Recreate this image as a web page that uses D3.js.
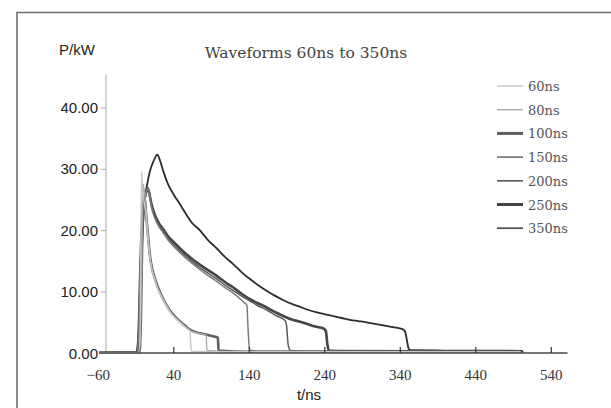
<!DOCTYPE html>
<html>
<head>
<meta charset="utf-8">
<script src="https://cdn.jsdelivr.net/npm/d3@7/dist/d3.min.js"></script>
<style>
  html, body { margin: 0; padding: 0; background: #fff; overflow: hidden; }
  svg { display: block; }
</style>
</head>
<body>
<svg id="chart" width="611" height="408"></svg>
<script>
// ---- data (t in ns, P in kW) ----
const xTicks = [-60, 40, 140, 240, 340, 440, 540];
const yTicks = [0, 10, 20, 30, 40];
const seriesNames = ["60ns", "80ns", "100ns", "150ns", "200ns", "250ns", "350ns"];

const s60 = [[-58,0.05],[-6,0.05],[-4,3],[-3,18],[-2,29.6],[-1,27],[0,25.5],[1.5,24.5],[3,23.2],[6,19.3],[9,15.5],[12,13.4],[16,11.7],[20,10.3],[25,9.0],[31,7.6],[38,6.3],[45,5.4],[51,4.7],[57,4.1],[62,3.6],[63,1.5],[64,0.3],[100,0.2],[500,0.2]];
const s80 = [[-58,0.05],[-5,0.05],[-3,6],[-1,22],[0,27.5],[1.5,26.5],[3,25],[6,19.6],[9,15.7],[12,13.5],[16,11.8],[20,10.4],[25,9.1],[31,7.7],[38,6.4],[45,5.5],[51,4.8],[57,4.2],[62,3.7],[70,3.3],[77,3.1],[82,3.0],[83.5,2.9],[84.5,0.4],[120,0.2],[500,0.2]];
const s100 = [[-58,0.05],[-5,0.05],[-3,5],[-1,20],[0.5,25.5],[2,25.5],[4,22.5],[6,19.8],[9,15.9],[12,13.7],[16,12.0],[20,10.6],[25,9.2],[31,7.8],[38,6.5],[45,5.6],[51,4.9],[57,4.3],[62,3.8],[70,3.4],[82,3.05],[90,2.8],[97,2.6],[99,2.5],[100,0.4],[140,0.2],[500,0.2]];
const s150 = [[-58,0.05],[-8,0.1],[-6,3],[-4,12],[-2,20],[1,24],[4,26],[6.5,26.8],[9,25.3],[11,23.8],[15,22.1],[20,20.8],[27,19.5],[33,18.4],[42,17.2],[51,16.1],[62,14.9],[75,13.6],[86,12.6],[97,11.7],[108,10.7],[119,9.8],[126,9.1],[133,8.3],[137.5,7.8],[139,4],[141,0.5],[150,0.3],[500,0.2]];
const s200 = [[-58,0.05],[-8,0.1],[-6,3],[-4,12],[-2,20],[1,24.5],[4,26.4],[6.5,27.0],[9,25.6],[11,24.1],[15,22.4],[20,21.0],[27,19.8],[33,18.7],[42,17.5],[51,16.4],[62,15.2],[75,13.9],[86,13.0],[97,12.1],[108,11.1],[119,10.2],[130,9.3],[141,8.5],[152,7.7],[164,7.0],[176,6.1],[188,5.3],[190,4.5],[192,1.5],[195,0.4],[210,0.3],[500,0.2]];
const s250 = [[-58,0.05],[-8,0.1],[-6,3],[-4,12],[-2,20],[1,24.2],[4,26.2],[7,26.6],[9,25.5],[11,24.3],[15,22.7],[20,21.3],[27,20.1],[33,19.0],[42,17.9],[51,16.8],[62,15.6],[75,14.4],[86,13.5],[97,12.6],[108,11.6],[119,10.7],[130,9.7],[141,8.8],[152,8.1],[164,7.4],[176,6.6],[188,5.9],[198,5.4],[208,5.1],[218,4.7],[228,4.3],[239,4.0],[242,3.6],[244,1.5],[246,0.4],[260,0.3],[500,0.25]];
const s350 = [[-58,0.05],[-8.5,0.1],[-6,3],[-3,12],[0,21],[3,25.5],[7,28.5],[10,30],[14,31.3],[19,32.3],[22,31.5],[27,29.5],[33,27.5],[41,25.7],[49,24.2],[56,22.8],[64,21.3],[75,20.0],[86,18.4],[97,17.1],[108,15.7],[120,14.4],[131,13.1],[142,12.0],[153,11.0],[164,10.1],[175,9.3],[186,8.6],[197,8.0],[208,7.5],[219,7.0],[230,6.6],[241,6.3],[252,6.0],[263,5.7],[274,5.4],[285,5.2],[296,5.0],[307,4.75],[318,4.5],[329,4.25],[340,4.0],[345,3.8],[347.5,3.3],[349.5,2.0],[351.5,0.8],[354,0.45],[400,0.4],[450,0.4],[502,0.35],[503,0.05]];

const seriesData = [s60, s80, s100, s150, s200, s250, s350];

// ---- styles ----
const colors = ["#c6c6c6", "#a9a9a9", "#5e5e5e", "#7a7a7a", "#5a5a5a", "#454545", "#2c2c2c"];
const widths = [1.4, 1.4, 2.6, 1.5, 1.5, 2.6, 1.8];
const legendWidths = [1.4, 1.4, 3, 1.6, 1.6, 3, 1.8];
const legendColors = ["#c6c6c6", "#a9a9a9", "#5e5e5e", "#6e6e6e", "#5a5a5a", "#454545", "#555555"];

const svg = d3.select("#chart");

// frame: only top and left edges are within the picture
svg.append("path").attr("d", "M17,408V12.5H611")
  .attr("fill", "none").attr("stroke", "#707070").attr("stroke-width", 1.6);

const x = d3.scaleLinear().domain([-60, 540]).range([97.8, 550.8]);
const y = d3.scaleLinear().domain([0, 40]).range([353, 107.4]);

// y axis
svg.append("line").attr("x1", 106).attr("x2", 106).attr("y1", y(45.3)).attr("y2", y(0))
  .attr("stroke", "#b5b5b5").attr("stroke-width", 1.2);
const yAxis = d3.axisLeft(y).tickValues(yTicks).tickSize(5).tickFormat(d3.format(".2f"));
const gy = svg.append("g").attr("transform", "translate(106,0)").call(yAxis);
gy.select(".domain").remove();
gy.selectAll(".tick line").attr("stroke", "#aaa");
gy.selectAll(".tick text").attr("font-family", "Liberation Sans, Arial, sans-serif")
  .attr("font-size", 15).attr("fill", "#222").attr("x", -8).attr("dy", "0.34em");

// series
const line = d3.line().x(d => x(d[0])).y(d => y(d[1])).curve(d3.curveMonotoneX);
const order = [6, 5, 4, 3, 2, 1, 0];
svg.append("g").selectAll("path").data(order).join("path")
  .attr("d", i => line(seriesData[i]))
  .attr("fill", "none")
  .attr("stroke", i => colors[i])
  .attr("stroke-width", i => widths[i])
  .attr("stroke-linejoin", "round");

// x axis
svg.append("line").attr("x1", x(-58.5)).attr("x2", x(562)).attr("y1", y(0)).attr("y2", y(0))
  .attr("stroke", "#4a4a4a").attr("stroke-width", 1.5);
const xAxis = d3.axisBottom(x).tickValues(xTicks).tickSize(0).tickFormat(d => d < 0 ? "\u2212" + Math.abs(d) : d);
const gx = svg.append("g").attr("transform", `translate(0,${y(0)})`).call(xAxis);
gx.select(".domain").remove();
gx.selectAll(".tick text").attr("font-family", "Liberation Serif, serif")
  .attr("font-size", 15).attr("fill", "#333").attr("y", 27).attr("dy", 0);
gx.selectAll(".tick").filter(d => d > -60).append("line")
  .attr("y1", 0).attr("y2", -6).attr("stroke", "#333").attr("stroke-width", 1.2);

// labels
svg.append("text").attr("x", 59).attr("y", 55).text("P/kW")
  .attr("font-family", "Liberation Sans, Arial, sans-serif").attr("font-size", 15).attr("fill", "#222");
svg.append("text").attr("x", 309).attr("y", 400).attr("text-anchor", "middle").text("t/ns")
  .attr("font-family", "Liberation Sans, Arial, sans-serif").attr("font-size", 15).attr("fill", "#222");
svg.append("text").attr("x", 306).attr("y", 58).attr("text-anchor", "middle").text("Waveforms 60ns to 350ns")
  .attr("font-family", "DejaVu Serif, serif").attr("font-size", 15.5).attr("fill", "#444");

// legend
const lg = svg.append("g");
const rows = lg.selectAll("g").data(seriesNames).join("g")
  .attr("transform", (d, i) => `translate(497,${86 + i * 23.7})`);
rows.append("line").attr("x1", 0).attr("x2", 26).attr("y1", 0).attr("y2", 0)
  .attr("stroke", (d, i) => legendColors[i]).attr("stroke-width", (d, i) => legendWidths[i]);
rows.append("text").attr("x", 31).attr("y", 5).text(d => d)
  .attr("font-family", "DejaVu Serif, serif").attr("font-size", 13).attr("fill", "#555");
</script>
</body>
</html>
